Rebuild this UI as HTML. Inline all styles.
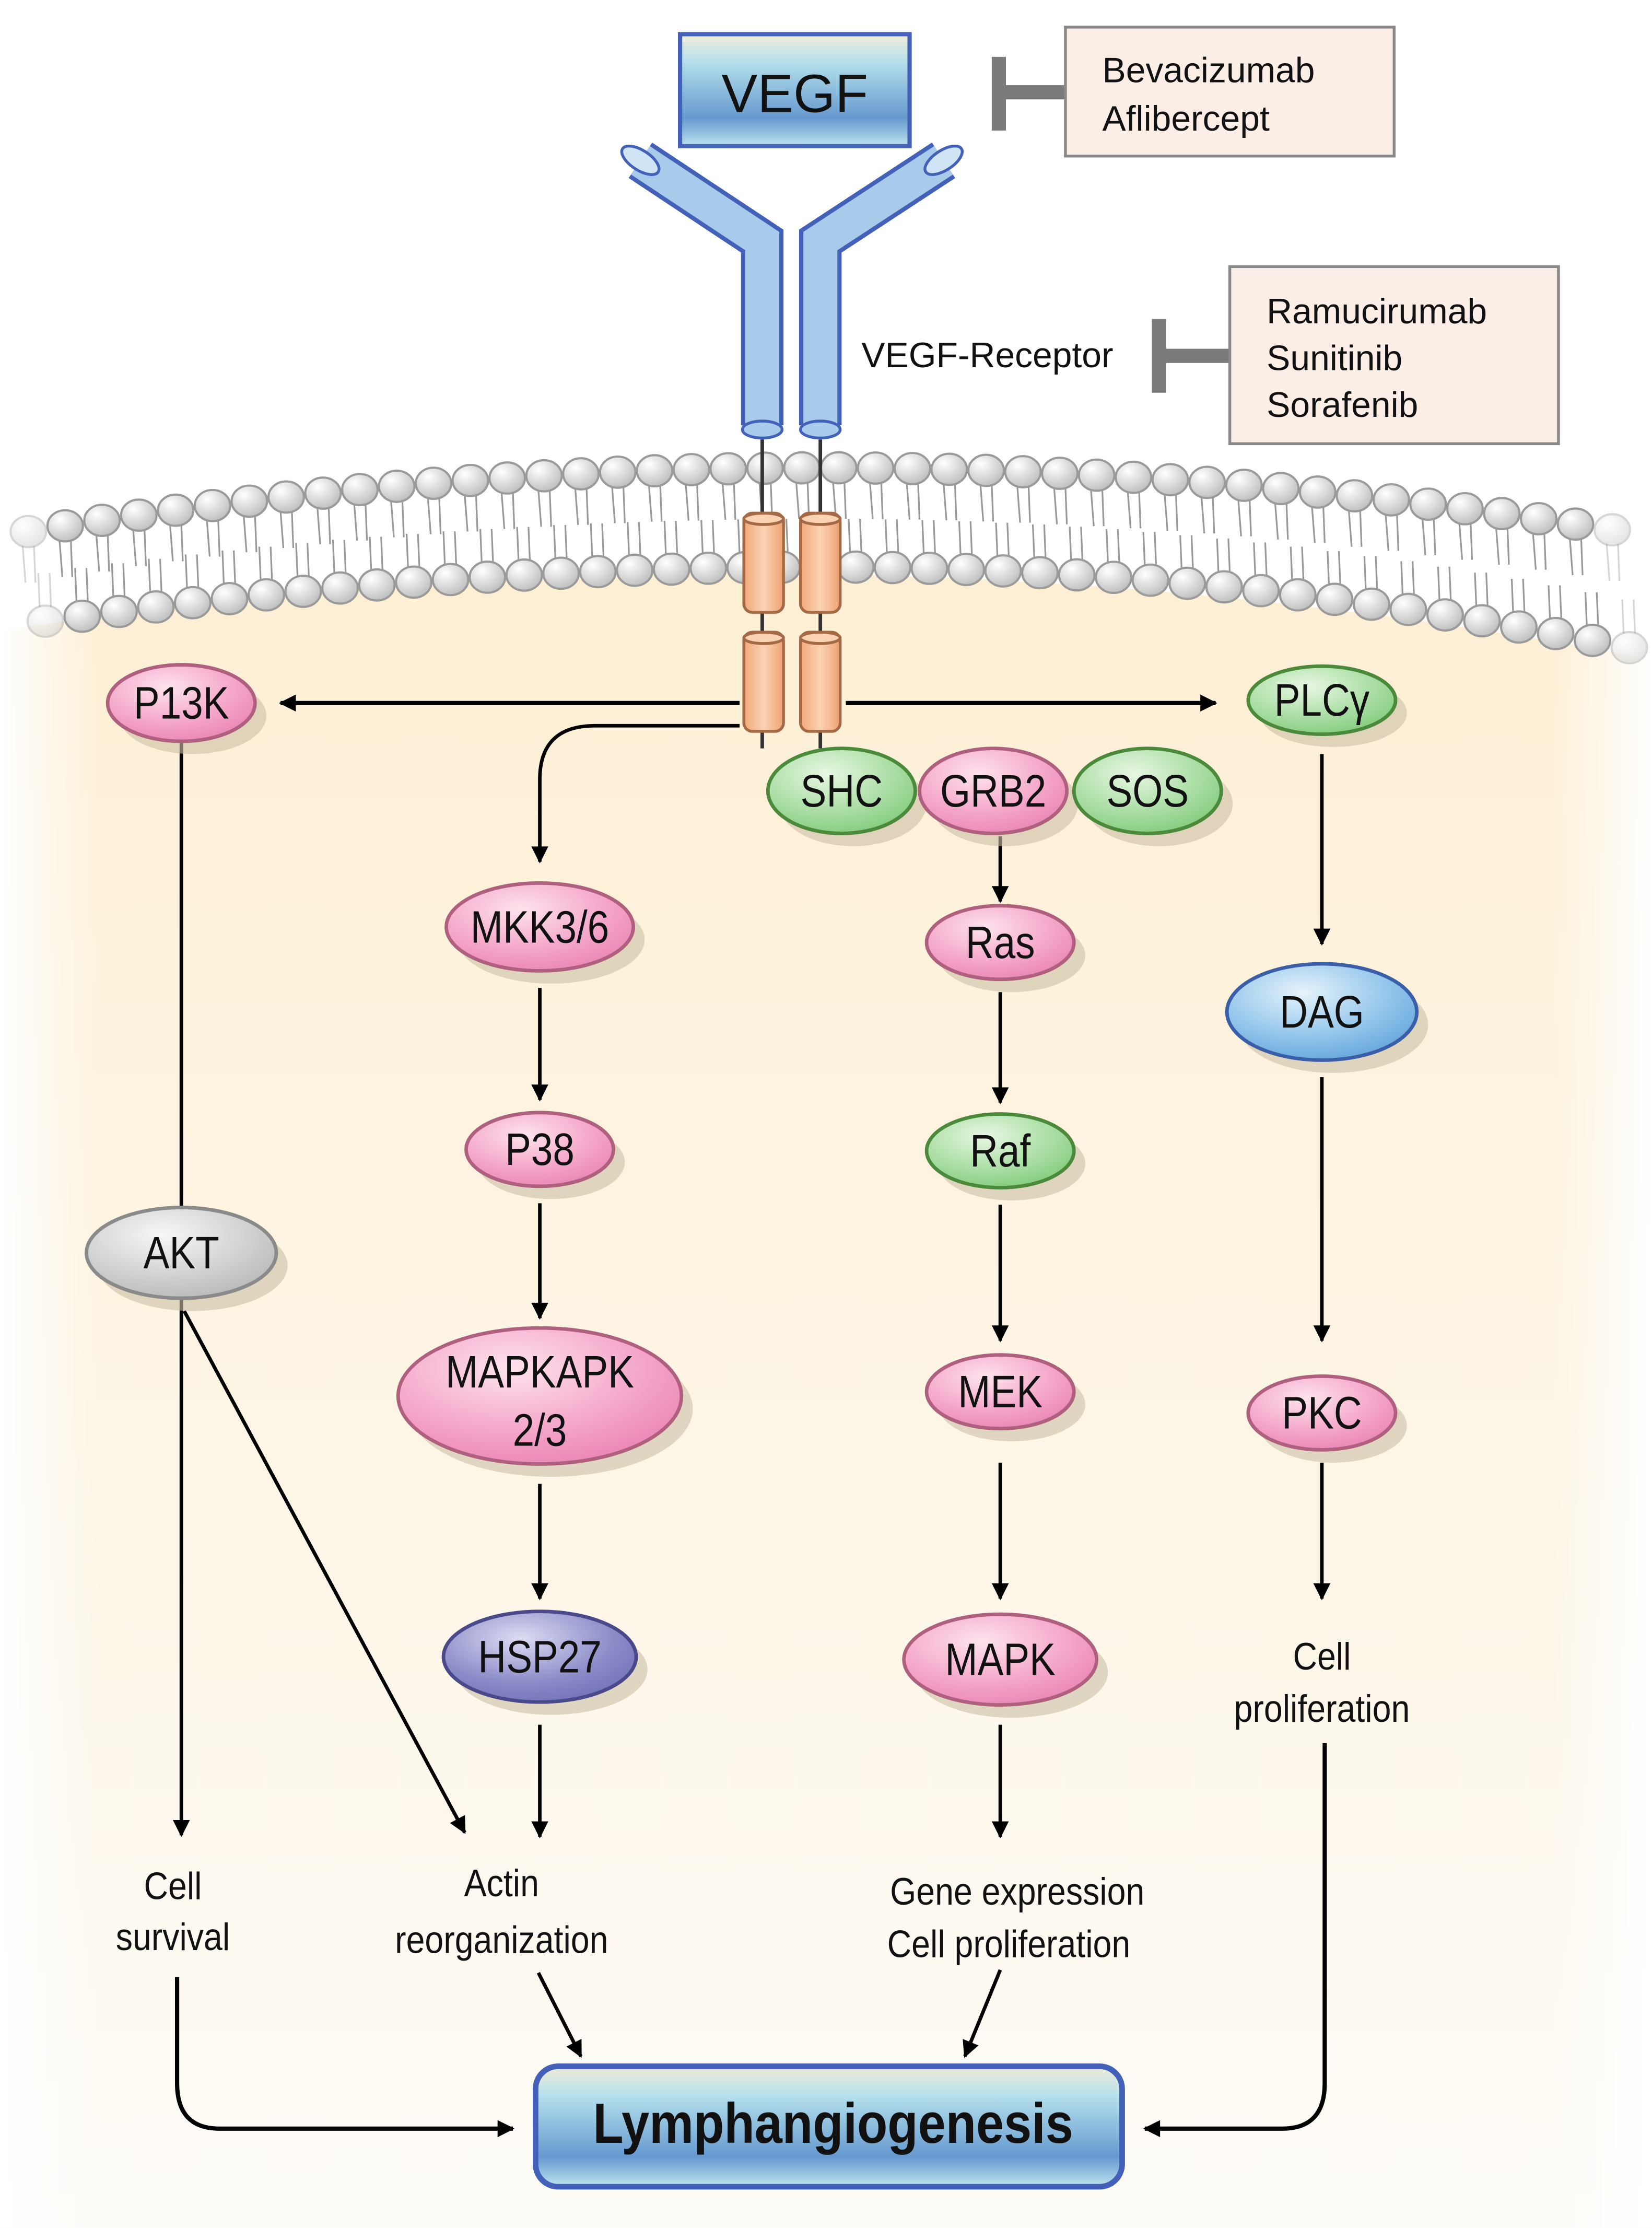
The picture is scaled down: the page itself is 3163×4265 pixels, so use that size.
<!DOCTYPE html>
<html><head><meta charset="utf-8"><style>
html,body{margin:0;padding:0;background:#fff;}
svg{display:block;}
.n{font-family:"Liberation Sans Narrow","Liberation Sans",sans-serif;font-size:32px;fill:#111;text-anchor:middle;}
.t{font-family:"Liberation Sans",sans-serif;font-size:27px;fill:#111;text-anchor:middle;}
.l{font-family:"Liberation Sans",sans-serif;font-size:25px;fill:#111;}
</style></head><body>
<svg id="s" width="3163" height="4265" viewBox="0 0 1166 1572" xmlns="http://www.w3.org/2000/svg">
<defs>
<radialGradient id="pk" cx="0.4" cy="0.3" r="0.8"><stop offset="0" stop-color="#fde3ee"/><stop offset="0.6" stop-color="#f4a3c7"/><stop offset="1" stop-color="#e880b0"/></radialGradient>
<radialGradient id="gr" cx="0.4" cy="0.3" r="0.8"><stop offset="0" stop-color="#e8f7e3"/><stop offset="0.6" stop-color="#a6dca0"/><stop offset="1" stop-color="#7cc877"/></radialGradient>
<radialGradient id="bl" cx="0.4" cy="0.3" r="0.8"><stop offset="0" stop-color="#e6f3fb"/><stop offset="0.6" stop-color="#8ec3ea"/><stop offset="1" stop-color="#5e9fd8"/></radialGradient>
<radialGradient id="gy" cx="0.4" cy="0.3" r="0.8"><stop offset="0" stop-color="#f7f7f7"/><stop offset="0.6" stop-color="#cfcfcf"/><stop offset="1" stop-color="#b4b4b4"/></radialGradient>
<radialGradient id="pu" cx="0.4" cy="0.3" r="0.8"><stop offset="0" stop-color="#dcdcf2"/><stop offset="0.6" stop-color="#8c8cc9"/><stop offset="1" stop-color="#6d6db5"/></radialGradient>
<radialGradient id="hd" cx="0.35" cy="0.3" r="0.8"><stop offset="0" stop-color="#ffffff"/><stop offset="0.5" stop-color="#dcdcdc"/><stop offset="1" stop-color="#b9b9b9"/></radialGradient>
<linearGradient id="box" x1="0" y1="0" x2="0" y2="1"><stop offset="0" stop-color="#f2ecd8"/><stop offset="0.25" stop-color="#b4e0ec"/><stop offset="0.75" stop-color="#6699cf"/><stop offset="1" stop-color="#bde4ee"/></linearGradient>
<linearGradient id="cyt" x1="0" y1="0" x2="0" y2="1"><stop offset="0" stop-color="#fdefd4"/><stop offset="0.6" stop-color="#fdf6e8"/><stop offset="1" stop-color="#fefcf8"/></linearGradient>
<linearGradient id="side" x1="0" y1="0" x2="1" y2="0"><stop offset="0" stop-color="#fff" stop-opacity="1"/><stop offset="0.06" stop-color="#fff" stop-opacity="0"/><stop offset="0.94" stop-color="#fff" stop-opacity="0"/><stop offset="1" stop-color="#fff" stop-opacity="1"/></linearGradient>
<linearGradient id="cyl" x1="0" y1="0" x2="1" y2="0"><stop offset="0" stop-color="#f0a878"/><stop offset="0.5" stop-color="#fbd3b3"/><stop offset="1" stop-color="#eea274"/></linearGradient>
<marker id="a" viewBox="0 0 10 10" refX="9" refY="5" markerWidth="15" markerHeight="12" orient="auto" markerUnits="userSpaceOnUse" style="overflow:visible"><path d="M0,0 L10,5 L0,10 z" fill="#000"/></marker>
</defs>
<rect width="1166" height="1572" fill="#fff"/>
<path d="M0,445 Q583,355 1166,465 L1166,1572 L0,1572 Z" fill="url(#cyt)"/>
<rect x="0" y="400" width="1166" height="1172" fill="url(#side)"/>
<g id="mem"></g>

<g stroke-linejoin="miter" fill="none">
<path d="M452,113 L538,170 L538,300" stroke="#4361b8" stroke-width="30"/>
<path d="M452,113 L538,170 L538,300" stroke="#a9cbeb" stroke-width="24"/>
<path d="M666,113 L579,170 L579,300" stroke="#4361b8" stroke-width="30"/>
<path d="M666,113 L579,170 L579,300" stroke="#a9cbeb" stroke-width="24"/>
</g>
<ellipse cx="452" cy="113" rx="15" ry="7" transform="rotate(33 452 113)" fill="#cfe5f6" stroke="#4361b8" stroke-width="2"/>
<ellipse cx="666" cy="113" rx="15" ry="7" transform="rotate(-33 666 113)" fill="#cfe5f6" stroke="#4361b8" stroke-width="2"/>
<ellipse cx="538" cy="303" rx="14" ry="6" fill="#a9cbeb" stroke="#4361b8" stroke-width="2"/>
<ellipse cx="579" cy="303" rx="14" ry="6" fill="#a9cbeb" stroke="#4361b8" stroke-width="2"/>
<line x1="538" y1="310" x2="538" y2="528" stroke="#333" stroke-width="2.5"/>
<line x1="579" y1="310" x2="579" y2="528" stroke="#333" stroke-width="2.5"/>
<g stroke="#a56a45" stroke-width="2" fill="url(#cyl)">
<rect x="525" y="362" width="28" height="70" rx="6"/><rect x="565" y="362" width="28" height="70" rx="6"/>
<rect x="525" y="446" width="28" height="70" rx="6"/><rect x="565" y="446" width="28" height="70" rx="6"/>
<ellipse cx="539" cy="366" rx="14" ry="4" fill="#fbd3b3"/><ellipse cx="579" cy="366" rx="14" ry="4" fill="#fbd3b3"/>
<ellipse cx="539" cy="450" rx="14" ry="4" fill="#fbd3b3"/><ellipse cx="579" cy="450" rx="14" ry="4" fill="#fbd3b3"/>
</g>

<rect x="480" y="24" width="162" height="79" fill="url(#box)" stroke="#4361b8" stroke-width="3"/>
<text x="561" y="79" class="t" style="font-size:38px">VEGF</text>
<rect x="700" y="40" width="10" height="52" fill="#7a7a7a"/><rect x="705" y="60" width="48" height="10" fill="#7a7a7a"/>
<rect x="752" y="19" width="232" height="91" fill="#fbeee6" stroke="#888" stroke-width="2"/>
<text x="778" y="58" class="l">Bevacizumab</text><text x="778" y="92" class="l">Aflibercept</text>
<rect x="813" y="225" width="10" height="52" fill="#7a7a7a"/><rect x="818" y="246" width="50" height="10" fill="#7a7a7a"/>
<rect x="868" y="188" width="232" height="125" fill="#fbeee6" stroke="#888" stroke-width="2"/>
<text x="894" y="228" class="l">Ramucirumab</text><text x="894" y="261" class="l">Sunitinib</text><text x="894" y="294" class="l">Sorafenib</text>
<text x="608" y="259" class="l">VEGF-Receptor</text>

<g stroke="#000" stroke-width="2.5" fill="none" marker-end="url(#a)">
<line x1="522" y1="496" x2="198" y2="496" stroke-width="3"/>
<line x1="597" y1="496" x2="858" y2="496" stroke-width="3"/>
<path d="M522,512 L420,512 Q381,512 381,550 L381,608"/>
<line x1="706" y1="590" x2="706" y2="636"/>
<line x1="381" y1="697" x2="381" y2="776"/>
<line x1="706" y1="700" x2="706" y2="778"/>
<line x1="933" y1="532" x2="933" y2="666"/>
<line x1="381" y1="849" x2="381" y2="930"/>
<line x1="706" y1="850" x2="706" y2="946"/>
<line x1="933" y1="760" x2="933" y2="946"/>
<line x1="381" y1="1047" x2="381" y2="1128"/>
<line x1="706" y1="1032" x2="706" y2="1128"/>
<line x1="933" y1="1032" x2="933" y2="1128"/>
<line x1="381" y1="1217" x2="381" y2="1296"/>
<line x1="706" y1="1217" x2="706" y2="1296"/>
<line x1="128" y1="915" x2="128" y2="1295"/>
<line x1="130" y1="925" x2="328" y2="1293"/>
<line x1="380" y1="1392" x2="410" y2="1451"/>
<line x1="706" y1="1390" x2="681" y2="1451"/>
<path d="M125,1395 L125,1470 Q125,1502 155,1502 L362,1502" stroke-width="3"/>
<path d="M935,1230 L935,1470 Q935,1502 905,1502 L808,1502" stroke-width="3"/>
</g>
<line x1="128" y1="522" x2="128" y2="852" stroke="#000" stroke-width="2.5"/>

<g id="nodes"></g>

<g id="lab"></g>

<rect x="378" y="1458" width="414" height="85" rx="16" fill="url(#box)" stroke="#4361b8" stroke-width="4"/>
<text transform="translate(588 1512) scale(0.88 1)" x="0" y="0" class="t" style="font-size:40px;font-weight:bold">Lymphangiogenesis</text>
</svg>
<script>
var NS="http://www.w3.org/2000/svg";
function el(p,t,a){var e=document.createElementNS(NS,t);for(var k in a)e.setAttribute(k,a[k]);p.appendChild(e);return e;}
var m=document.getElementById("mem");
function yt(x){return 330+0.000142*(x-583)*(x-583);}
function yb(x){var d=x-583;return 400+(d<0?0.000126:0.000177)*d*d;}
for(var x=20;x<=1150;x+=26){
  var a=yt(x),b=yb(x+12);
  var op=(x<40||x>1130)?0.4:1;
  el(m,"line",{x1:x-4,y1:a+10,x2:x-2,y2:a+36,stroke:"#999","stroke-width":1.2,opacity:op});
  el(m,"line",{x1:x+4,y1:a+10,x2:x+5,y2:a+36,stroke:"#999","stroke-width":1.2,opacity:op});
  el(m,"line",{x1:x+8,y1:b-10,x2:x+7,y2:b-34,stroke:"#999","stroke-width":1.2,opacity:op});
  el(m,"line",{x1:x+16,y1:b-10,x2:x+15,y2:b-34,stroke:"#999","stroke-width":1.2,opacity:op});
}
for(var x=20;x<=1150;x+=26){
  var op=(x<40||x>1130)?0.4:1;
  el(m,"ellipse",{cx:x,cy:yt(x),rx:12.5,ry:11,fill:"url(#hd)",stroke:"#9a9a9a","stroke-width":1.5,opacity:op});
  el(m,"ellipse",{cx:x+12,cy:yb(x+12),rx:12.5,ry:11,fill:"url(#hd)",stroke:"#9a9a9a","stroke-width":1.5,opacity:op});
}
function txt(p,s,x,y,cls,sx){var t=el(p,"text",{x:0,y:0,"class":cls,transform:"translate("+x+" "+y+") scale("+sx+" 1)"});t.textContent=s;return t;}
var N=[
["P13K",128,496,52,27,"pk","#b0607f"],
["PLCγ",933,494,52,24,"gr","#4a8a3a"],
["SHC",594,558,52,30,"gr","#4a8a3a"],
["SOS",810,558,52,30,"gr","#4a8a3a"],
["GRB2",701,558,52,30,"pk","#b0607f"],
["MKK3/6",381,654,66,31,"pk","#b0607f"],
["Ras",706,665,52,26,"pk","#b0607f"],
["DAG",933,714,67,34,"bl","#3a5ea8"],
["P38",381,811,52,26,"pk","#b0607f"],
["Raf",706,812,52,26,"gr","#4a8a3a"],
["AKT",128,884,67,32,"gy","#8a8a8a"],
["MAPKAPK|2/3",381,985,100,48,"pk","#b0607f"],
["MEK",706,982,52,26,"pk","#b0607f"],
["PKC",933,997,52,26,"pk","#b0607f"],
["HSP27",381,1169,68,32,"pu","#4a4a8a"],
["MAPK",706,1171,68,32,"pk","#b0607f"]];
var g=document.getElementById("nodes");
N.forEach(function(n){el(g,"ellipse",{cx:n[1]+8,cy:n[2]+9,rx:n[3],ry:n[4],fill:"#cbbfa6",opacity:0.6});});
N.forEach(function(n){
  el(g,"ellipse",{cx:n[1],cy:n[2],rx:n[3],ry:n[4],fill:"url(#"+n[5]+")",stroke:n[6],"stroke-width":2.5});
  var p=n[0].split("|");
  if(p.length==1){txt(g,p[0],n[1],n[2]+11,"n",0.86);}
  else{txt(g,p[0],n[1],n[2]-6,"n",0.86);txt(g,p[1],n[1],n[2]+35,"n",0.86);}
});
var L=document.getElementById("lab");
[["Cell",933,1178],["proliferation",933,1215],["Cell",122,1340],["survival",122,1376],["Actin",354,1338],["reorganization",354,1378],["Gene expression",718,1344],["Cell proliferation",712,1381]].forEach(function(a){txt(L,a[0],a[1],a[2],"t",0.88);});
</script>
</body></html>
